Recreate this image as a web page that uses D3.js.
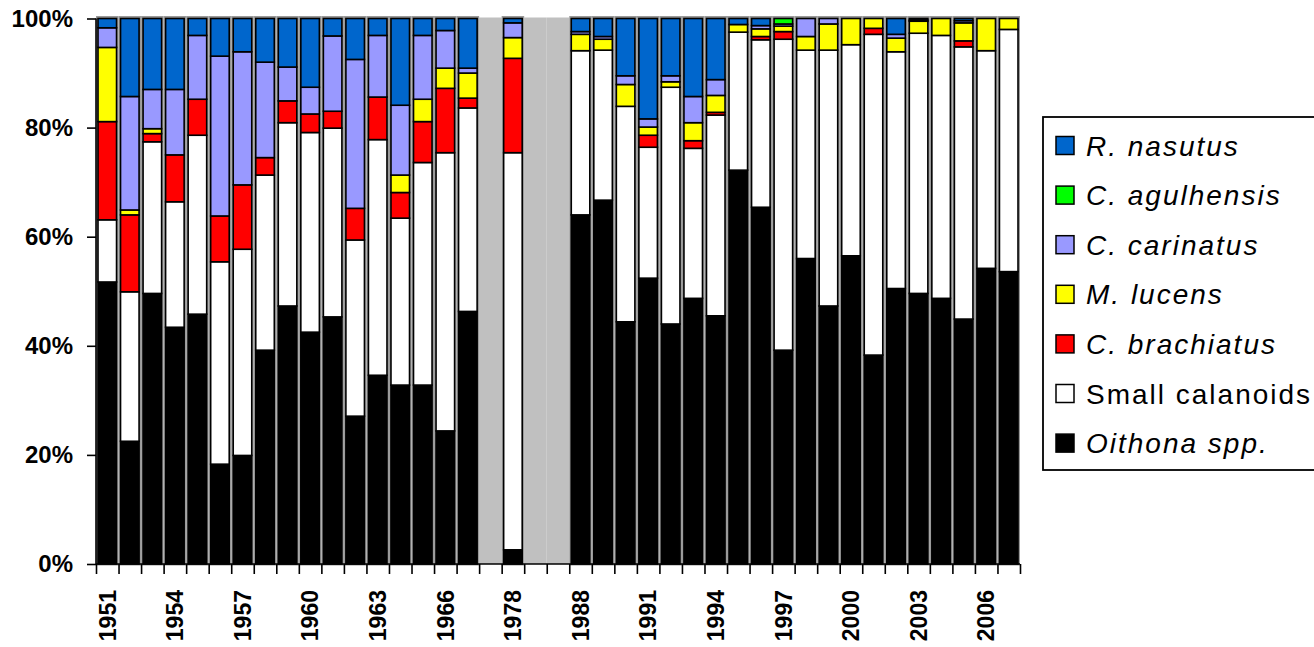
<!DOCTYPE html>
<html>
<head>
<meta charset="utf-8">
<script src="https://cdn.jsdelivr.net/npm/d3@7"></script>
<style>
  html, body { margin: 0; padding: 0; background: #fff; }
  svg { display: block; }
  .axis text { font-family: "Liberation Sans", Arial, sans-serif; font-weight: bold; fill: #000; }
  .legend text { font-family: "Liberation Sans", Arial, sans-serif; fill: #000; }
</style>
</head>
<body>
<svg id="chart" width="1314" height="647"></svg>
<script>
// Category slots along the x axis (three empty slots mark years without samples)
const categories = [
  "1951","1952","1953","1954","1955","1956","1957","1958","1959","1960",
  "1961","1962","1963","1964","1965","1966","1967","gap1","1978","gap2","gap3",
  "1988","1989","1990","1991","1992","1993","1994","1995","1996","1997",
  "1998","1999","2000","2001","2002","2003","2004","2005","2006","2007"
];
const gapSlots = ["gap1", "gap2", "gap3"];
const tickLabels = ["1951","1954","1957","1960","1963","1966","1978","1988","1991","1994","1997","2000","2003","2006"];
const yTicks = [0, 0.2, 0.4, 0.6, 0.8, 1];

// Sampled years, in the same order as the series values below
const years = [
  "1951","1952","1953","1954","1955","1956","1957","1958","1959","1960",
  "1961","1962","1963","1964","1965","1966","1967","1978",
  "1988","1989","1990","1991","1992","1993","1994","1995","1996","1997",
  "1998","1999","2000","2001","2002","2003","2004","2005","2006","2007"
];

// Relative abundance (%) of each group per year
const oithona = [51.7,22.5,49.6,43.4,45.8,18.3,19.9,39.2,47.3,42.5,45.3,27.1,34.6,32.8,32.8,24.4,46.3,2.6,
  64.0,66.7,44.4,52.4,44.0,48.7,45.5,72.2,65.4,39.2,56.0,47.3,56.5,38.3,50.5,49.6,48.7,44.9,54.2,53.6];
const smallCalanoids = [11.4,27.4,27.8,23.0,32.8,37.1,37.8,32.1,33.6,36.6,34.6,32.3,43.2,30.6,40.8,51.0,37.3,72.8,
  30.1,27.5,39.5,24.0,43.4,27.5,36.8,25.3,30.7,57.0,38.2,46.9,38.7,58.8,43.4,47.7,48.2,49.9,39.9,44.4];
const brachiatus = [18.0,14.1,1.5,8.6,6.6,8.4,11.8,3.2,4.0,3.4,3.1,5.8,7.8,4.7,7.5,11.8,1.8,17.3,
  0,0,0,2.2,0,1.4,0.5,0,0.6,1.4,0,0,0,1.1,0,0,0,1.1,0,0];
const lucens = [13.6,0.9,0.9,0,0,0,0,0,0,0,0,0,0,3.2,4.1,3.7,4.6,3.8,
  3.0,2.0,4.0,1.5,1.0,3.3,3.1,1.4,1.4,1.0,2.5,4.8,4.8,1.8,2.5,2.2,3.1,3.3,5.9,2.0];
const carinatus = [3.6,20.8,7.2,12.0,11.7,29.3,24.4,17.5,6.2,4.9,13.8,27.3,11.3,12.8,11.7,6.9,0.9,2.7,
  0.5,0.5,1.6,1.5,1.1,4.8,2.9,0,0.6,0.4,3.3,1.0,0,0,0.7,0.2,0,0.4,0,0];
const agulhensis = [0,0,0,0,0,0,0,0,0,0,0,0,0,0,0,0,0,0,
  0,0,0,0,0,0,0,0,0,1.0,0,0,0,0,0,0,0,0,0,0];
const nasutus = [1.7,14.3,13.0,13.0,3.1,6.9,6.1,8.0,8.9,12.6,3.2,7.5,3.1,15.9,3.1,2.2,9.1,0.8,
  2.4,3.3,10.5,18.4,10.5,14.3,11.2,1.1,1.3,0,0,0,0,0,2.9,0.3,0,0.4,0,0];

// Stack order, bottom to top
const seriesKeys = ["oithona","small","brachiatus","lucens","carinatus","agulhensis","nasutus"];
const seriesValues = {
  oithona: oithona, small: smallCalanoids, brachiatus: brachiatus, lucens: lucens,
  carinatus: carinatus, agulhensis: agulhensis, nasutus: nasutus
};
const seriesColors = {
  oithona: "#000000", small: "#ffffff", brachiatus: "#ff0000", lucens: "#ffff00",
  carinatus: "#9999ff", agulhensis: "#00ff00", nasutus: "#0066cc"
};
// Legend, top to bottom
const legendKeys = ["nasutus","agulhensis","carinatus","lucens","brachiatus","small","oithona"];
const legendLabels = ["R. nasutus","C. agulhensis","C. carinatus","M. lucens","C. brachiatus","Small calanoids","Oithona spp."];
const legendItalic = [true,true,true,true,true,false,true];

const rows = years.map((yr, i) => {
  const r = { year: yr };
  seriesKeys.forEach(k => { r[k] = seriesValues[k][i]; });
  return r;
});

const svg = d3.select("#chart");
const plotLeft = 96, plotRight = 1020, plotTop = 18.5, plotBottom = 564;

const x = d3.scaleBand().domain(categories).range([plotLeft, plotRight]).paddingInner(0).paddingOuter(0);
const xi = d3.scaleLinear().domain([0, categories.length]).range([plotLeft, plotRight]);
const y = d3.scaleLinear().domain([0, 1]).range([plotBottom, plotTop]);

const stack = d3.stack().keys(seriesKeys).offset(d3.stackOffsetExpand);
const stacked = stack(rows);
const bw = x.bandwidth();

// Empty years shown as grey columns
svg.append("g").selectAll("rect").data(gapSlots).join("rect")
  .attr("x", d => x(d))
  .attr("y", y(1) - 1)
  .attr("width", bw)
  .attr("height", y(0) - y(1) + 1)
  .attr("fill", "#c0c0c0");

// soft grey rim round each bar
svg.append("g").selectAll("rect").data(rows).join("rect")
  .attr("x", d => x(d.year) + 1.5)
  .attr("y", y(1) - 1)
  .attr("width", bw - 3)
  .attr("height", y(0) - y(1) + 1)
  .attr("fill", "none")
  .attr("stroke", "#9a9a9a")
  .attr("stroke-width", 3);

const layers = svg.append("g").selectAll("g").data(stacked).join("g")
  .attr("fill", d => seriesColors[d.key]);

layers.selectAll("rect").data(d => d).join("rect")
  .attr("x", d => x(d.data.year) + 2)
  .attr("y", d => y(d[1]))
  .attr("width", bw - 4)
  .attr("height", d => Math.max(0, y(d[0]) - y(d[1])))
  .attr("stroke", "#000")
  .attr("stroke-width", 1.6);

// Y axis
const yAxis = svg.append("g").attr("class", "axis")
  .attr("transform", `translate(${plotLeft},0)`)
  .call(d3.axisLeft(y).tickValues(yTicks).tickFormat(d3.format(".0%")).tickSize(9).tickPadding(14));
yAxis.selectAll("text").style("font-size", "24px");
yAxis.selectAll("line, path").attr("stroke", "#000").attr("stroke-width", 1.6);
yAxis.select(".domain").attr("d", `M0,${plotBottom}V${plotTop}`);

// X axis: tick marks on slot boundaries
const xTicks = svg.append("g").attr("class", "axis")
  .attr("transform", `translate(0,${plotBottom})`)
  .call(d3.axisBottom(xi).tickValues(d3.range(categories.length + 1)).tickFormat("").tickSize(10));
xTicks.selectAll("line, path").attr("stroke", "#000").attr("stroke-width", 1.6);
xTicks.select(".domain").attr("d", `M${plotLeft},0H${plotRight}`);

// X axis labels, every third slot
const xLabels = svg.append("g").attr("class", "axis")
  .attr("transform", `translate(0,${plotBottom})`)
  .call(d3.axisBottom(x).tickValues(tickLabels).tickSize(0));
xLabels.select(".domain").remove();
xLabels.selectAll("text")
  .style("font-size", "23px")
  .attr("text-anchor", "end")
  .attr("transform", "rotate(-90)")
  .attr("x", -26)
  .attr("y", 0)
  .attr("dy", "0.36em");

// Legend
const legend = svg.append("g").attr("class", "legend");
legend.append("rect")
  .attr("x", 1043).attr("y", 117)
  .attr("width", 300).attr("height", 353)
  .attr("fill", "#fff").attr("stroke", "#000").attr("stroke-width", 1.8);
const items = legend.selectAll("g.item").data(legendKeys).join("g")
  .attr("class", "item")
  .attr("transform", (d, i) => `translate(0,${145.5 + i * 49.6})`);
items.append("rect")
  .attr("x", 1056).attr("y", -9)
  .attr("width", 18).attr("height", 18)
  .attr("fill", d => seriesColors[d])
  .attr("stroke", "#000").attr("stroke-width", 1.5);
items.append("text")
  .attr("x", 1086).attr("y", 10)
  .style("font-size", "28px")
  .style("letter-spacing", "2px")
  .style("font-style", (d, i) => legendItalic[i] ? "italic" : "normal")
  .text((d, i) => legendLabels[i]);
</script>
</body>
</html>
